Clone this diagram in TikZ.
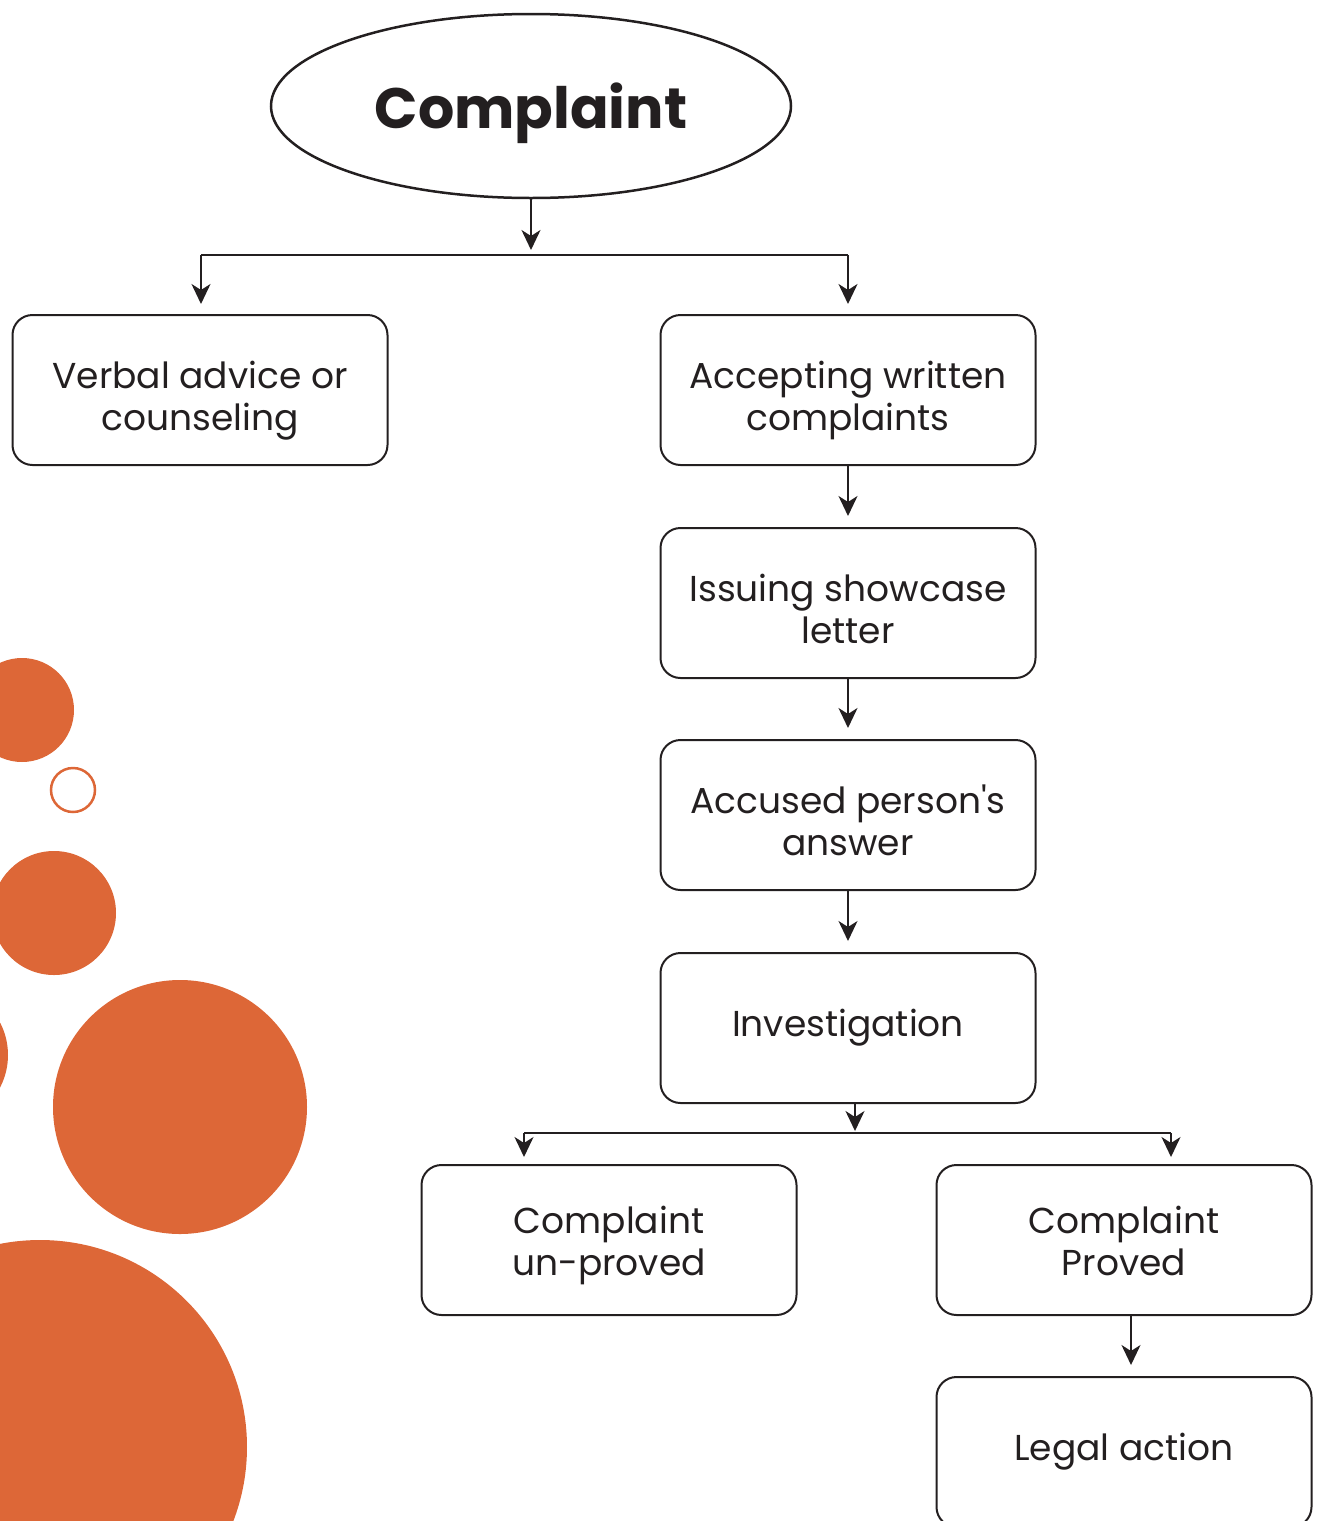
\documentclass[tikz,border=0pt]{standalone}
\usepackage{fontspec}
\setmainfont{Poppins}
\usetikzlibrary{arrows.meta,shapes.geometric}
\definecolor{orng}{HTML}{DD6737}
\definecolor{ink}{HTML}{231F20}
\newcommand\twolines[3]{\raisebox{#3}[\height][\depth]{\begin{tabular}{@{}c@{}}#1\\#2\end{tabular}}}
\begin{document}
\begin{tikzpicture}[x=1pt,y=-1pt,
  box/.style={draw=ink,line width=2pt,rounded corners=20pt,minimum width=375pt,minimum height=150pt,align=center,font=\fontsize{36}{42}\selectfont,text=ink,inner sep=0pt},
  arr/.style={draw=ink,line width=2pt,-{Stealth[length=20pt,width=19pt,inset=6pt]}},
  ln/.style={draw=ink,line width=2pt},
  dot/.style={fill=orng,draw=none}]
\useasboundingbox (0,0) rectangle (1321,1521);
% decorative circles
\fill[dot] (22,710) circle (52);
\draw[orng,line width=2.5pt] (73,790) circle (22);
\fill[dot] (54,913) circle (62);
\fill[dot] (-62,1055) circle (70);
\fill[dot] (180,1107) circle (127);
\fill[dot] (40,1447) circle (207);
% nodes
\node[ellipse,draw=ink,line width=2.5pt,minimum width=520pt,minimum height=184pt,inner sep=0pt,font=\fontsize{57}{66}\selectfont\bfseries,text=ink] (complaint) at (531,106) {\raisebox{-7pt}[\height][\depth]{Complaint}};
\node[box] (verbal) at (200,390) {\twolines{Verbal advice or}{counseling}{-11pt}};
\node[box] (written) at (848,390) {\twolines{Accepting written}{complaints}{-11pt}};
\node[box] (issuing) at (848,603) {\twolines{Issuing showcase}{letter}{-11pt}};
\node[box] (answer) at (848,815) {\twolines{Accused person\textquotesingle s}{answer}{-11pt}};
\node[box] (invest) at (848,1028) {Investigation};
\node[box] (unproved) at (609,1240) {\twolines{Complaint}{un-proved}{-6pt}};
\node[box] (proved) at (1124,1240) {\twolines{Complaint}{Proved}{-6pt}};
\node[box] (legal) at (1124,1452) {Legal action};
% junctions
\coordinate (j1) at (531,255);
\coordinate (j1l) at (201,255);
\coordinate (j1r) at (848,255);
\coordinate (j2) at (855,1133);
\coordinate (j2l) at (524,1133);
\coordinate (j2r) at (1171,1133);
% connectors
\draw[arr,shorten >=5pt] (complaint.south) -- (j1);
\draw[ln] (j1l) -- (j1r);
\draw[arr,shorten >=10pt] (j1l) -- (j1l |- verbal.north);
\draw[arr,shorten >=10pt] (j1r) -- (written.north);
\draw[arr,shorten >=11pt] (written) -- (issuing);
\draw[arr,shorten >=11pt] (issuing) -- (answer);
\draw[arr,shorten >=11pt] (answer) -- (invest);
\draw[arr,shorten >=2pt] (invest.south -| j2) -- (j2);
\draw[ln] (j2l) -- (j2r);
\draw[arr,shorten >=7pt] (j2l) -- (j2l |- unproved.north);
\draw[arr,shorten >=7pt] (j2r) -- (j2r |- proved.north);
\draw[arr,shorten >=11pt] (proved.south -| 1131,0) -- (legal.north -| 1131,0);
\end{tikzpicture}
\end{document}
